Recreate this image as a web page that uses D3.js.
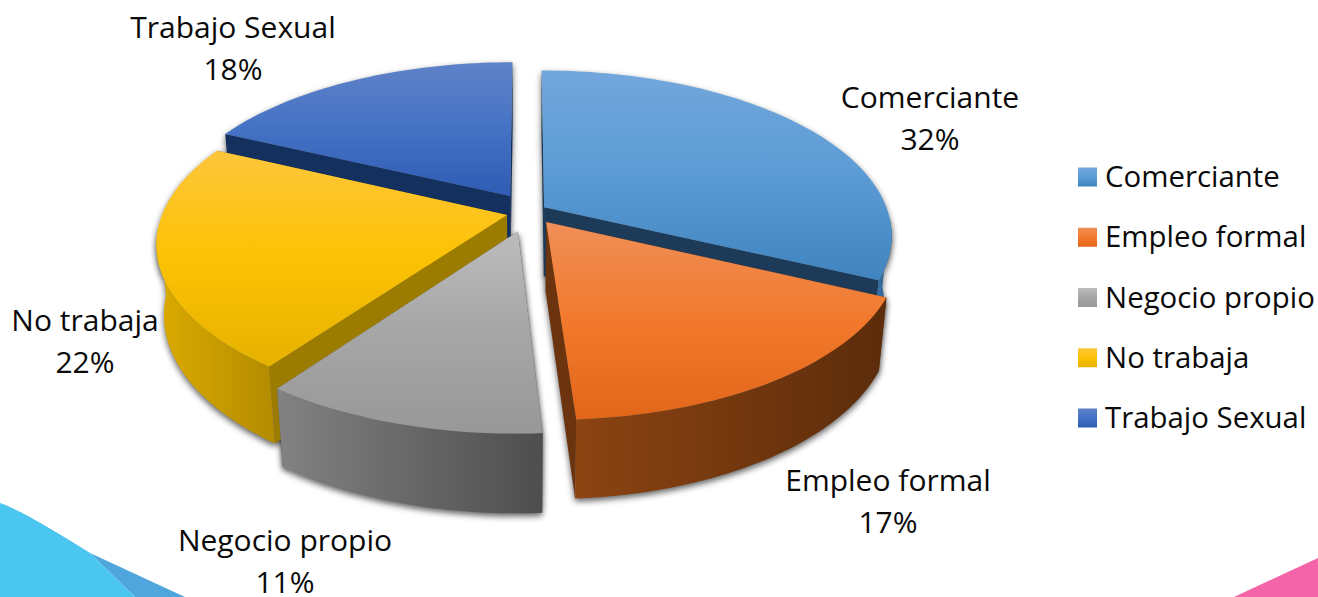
<!DOCTYPE html>
<html>
<head>
<meta charset="utf-8">
<script src="https://cdn.jsdelivr.net/npm/d3@7"></script>
<style>
  html, body { margin: 0; padding: 0; background: #fff; overflow: hidden; }
  text { font-family: "Open Sans", sans-serif; font-size: 30px; fill: #0a0a0a; }
  .legend-item text { font-size: 29.4px; }
</style>
</head>
<body>
<svg id="chart" width="1318" height="597"></svg>
<script>
// Data
const categories = ["Comerciante", "Empleo formal", "Negocio propio", "No trabaja", "Trabajo Sexual"];
const shares = [32, 17, 11, 22, 18];

// Colours: top face (light, mid, dark), cut wall, outer wall (left, right)
const topColors = [
    ["#72a7dc", "#5b9bd5", "#4084bf"],
    ["#ef8f58", "#f2792c", "#e2661a"],
    ["#bcbcbc", "#a6a6a6", "#989898"],
    ["#fdc63c", "#fcc204", "#e6b200"],
    ["#5f82c8", "#4472c4", "#2f5cb4"]
];
const cutColors = ["#1d3a58", "#6c340e", "#565656", "#9c7c00", "#14305e"];
const wallColors = [
    ["#3d7db5", "#2a5680"],
    ["#8c4412", "#5c2c0b"],
    ["#828282", "#4e4e4e"],
    ["#dcab00", "#b38b00"],
    ["#2f5cb4", "#1d3d7a"]
];

// How far each slice is pulled out, in disc units
const pullU = [0.05, 0.055, -0.026, -0.058, -0.05];
const pullV = [0.049, -0.043, -0.1, 0, 0.12];

// Pie geometry on screen
const cx = 527, cy = 215;
const radius = 345, radiusY = 162;
const persp = 0.168, sink = 0.02, depth = 71;

// Label anchors, one pair of baselines per slice
const labelX = [930, 888, 285, 85, 233];
const labelY = [108, 491, 551, 331, 38];
const lineGap = 42;

const svg = d3.select("#chart");
const defs = svg.append("defs");

// Disc point to screen, z = 0 top face, z = 1 bottom face
function project(u, v, z) {
    const s = 1 / (1 + persp * v + sink * z);
    return [cx + radius * u * s, cy - radiusY * v * s + depth * z * s];
}

const slices = d3.pie().sort(null).value(d => d)(shares);
const line = d3.line();

function rimAngles(d) {
    const n = Math.max(8, Math.round((d.endAngle - d.startAngle) * 40));
    return d3.range(n + 1).map(k => d.startAngle + (d.endAngle - d.startAngle) * k / n);
}

function rimPoint(a, i, z) {
    return project(pullU[i] + Math.sin(a), pullV[i] + Math.cos(a), z);
}

function slicePaths(d, i) {
    const angles = rimAngles(d);
    const topRim = angles.map(a => rimPoint(a, i, 0));
    const botRim = angles.map(a => rimPoint(a, i, 1));
    const apexT = project(pullU[i], pullV[i], 0);
    const apexB = project(pullU[i], pullV[i], 1);
    // only the part of the rim that faces the viewer gets an outer wall
    const front = angles.filter(a => Math.cos(a) < -0.05);
    const frontT = front.map(a => rimPoint(a, i, 0));
    const frontB = front.map(a => rimPoint(a, i, 1)).reverse();
    return {
        top: line([apexT, ...topRim]) + "Z",
        outer: front.length > 1 ? line([...frontT, ...frontB]) + "Z" : null,
        startCut: line([apexT, topRim[0], botRim[0], apexB]) + "Z",
        endCut: line([apexT, topRim[topRim.length - 1], botRim[botRim.length - 1], apexB]) + "Z"
    };
}

// Gradients
topColors.forEach((c, i) => {
    const g = defs.append("linearGradient").attr("id", "top" + i)
        .attr("x1", 0).attr("y1", 0).attr("x2", 0).attr("y2", 1);
    g.selectAll("stop").data(c).join("stop")
        .attr("offset", (d, k) => k / 2)
        .attr("stop-color", d => d);
    const w = defs.append("linearGradient").attr("id", "wall" + i)
        .attr("x1", 0).attr("y1", 0).attr("x2", 1).attr("y2", 0);
    w.selectAll("stop").data(wallColors[i]).join("stop")
        .attr("offset", (d, k) => k)
        .attr("stop-color", d => d);
});
defs.append("filter").attr("id", "blur")
    .attr("x", "-10%").attr("y", "-10%").attr("width", "120%").attr("height", "120%")
    .append("feGaussianBlur").attr("stdDeviation", 3);

// Slide background shapes
svg.append("path")
    .attr("d", "M0,503 C30,515 60,535 90,553 L185,597 L135,597 L90,553Z")
    .attr("fill", "#4ea6dc");
svg.append("path")
    .attr("d", "M0,503 C30,515 60,535 90,553 L135,597 L0,597Z")
    .attr("fill", "#4bc6f0");
svg.append("path")
    .attr("d", "M1234,597 L1318,558 L1318,597Z")
    .attr("fill", "#f464a8");

const paths = slices.map(slicePaths);
// back to front
const drawOrder = [4, 0, 3, 1, 2];

// Soft shadow layer under everything
const shadow = svg.append("g").attr("filter", "url(#blur)").attr("transform", "translate(0,3)");
drawOrder.forEach(i => {
    ["top", "outer", "startCut", "endCut"].forEach(k => {
        if (paths[i][k]) shadow.append("path").attr("d", paths[i][k]).attr("fill", "#000").attr("fill-opacity", 0.62);
    });
});

const pieG = svg.append("g");
drawOrder.forEach(i => {
    const g = pieG.append("g").attr("class", "slice");
    g.append("path").attr("d", paths[i].startCut).attr("fill", cutColors[i]);
    g.append("path").attr("d", paths[i].endCut).attr("fill", cutColors[i]);
    if (paths[i].outer) g.append("path").attr("d", paths[i].outer).attr("fill", `url(#wall${i})`);
    g.append("path").attr("d", paths[i].top).attr("fill", `url(#top${i})`);
});

// Data labels
const labels = svg.append("g").selectAll("text").data(categories).join("text")
    .attr("text-anchor", "middle");
labels.append("tspan")
    .attr("x", (d, i) => labelX[i]).attr("y", (d, i) => labelY[i])
    .text(d => d);
labels.append("tspan")
    .attr("x", (d, i) => labelX[i]).attr("y", (d, i) => labelY[i] + lineGap)
    .text((d, i) => shares[i] + "%");

// Legend
const legendY = d3.scalePoint().domain(categories).range([177, 418]);
const legend = svg.append("g").selectAll("g").data(categories).join("g")
    .attr("class", "legend-item")
    .attr("transform", d => `translate(1078,${legendY(d)})`);
legend.append("rect")
    .attr("y", -9.5).attr("width", 19).attr("height", 19)
    .attr("fill", (d, i) => `url(#top${i})`);
legend.append("text")
    .attr("x", 27).attr("y", 10)
    .text(d => d);
</script>
</body>
</html>
